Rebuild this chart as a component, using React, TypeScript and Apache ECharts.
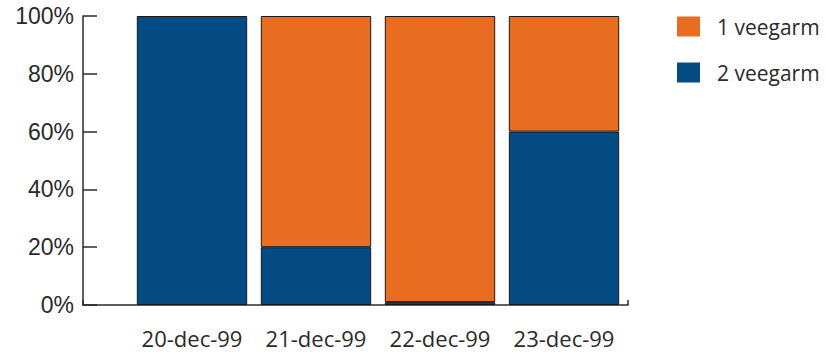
import React, { useEffect, useRef } from "react";
import * as echarts from "echarts";

const categories = ["20-dec-99", "21-dec-99", "22-dec-99", "23-dec-99"];
const seriesNames = ["1 veegarm", "2 veegarm"];
const oneArm = [0, 80, 99, 40];
const twoArm = [100, 20, 1, 60];
const yTicks = [0, 20, 40, 60, 80, 100];

const ORANGE = "#E86D20";
const BLUE = "#034B82";
const AXIS = "#2a2a2a";

const noZero = (arr: number[]) => arr.map((v) => (v === 0 ? null : v));

export default function App() {
  const ref = useRef<HTMLDivElement>(null);
  useEffect(() => {
    if (!ref.current) return;
    const chart = echarts.init(ref.current, undefined, { renderer: "svg" });
    const top = 16;
    const bottom = 49;
    chart.setOption({
      animation: false,
      backgroundColor: "#ffffff",
      grid: [
        { left: 130, right: 200, top, bottom },
        { left: 83, right: 198, top, bottom },
      ],
      legend: {
        orient: "vertical",
        left: 677,
        top: 16,
        padding: 0,
        itemWidth: 23,
        itemHeight: 20,
        itemGap: 25,
        icon: "rect",
        data: [seriesNames[0], seriesNames[1]],
        itemStyle: { borderWidth: 0 },
        textStyle: { fontFamily: "Open Sans", fontSize: 21, color: "#2a2a2a", padding: [4, 0, 0, 12] },
      },
      xAxis: [
        {
          type: "category",
          gridIndex: 0,
          data: categories,
          axisLine: { show: false },
          axisTick: { show: false },
          axisLabel: {
            interval: 0,
            hideOverlap: false,
            fontFamily: "Open Sans",
            fontSize: 22,
            color: "#2a2a2a",
            margin: 22,
          },
        },
        {
          type: "value",
          gridIndex: 1,
          min: 0,
          max: 1,
          interval: 1,
          axisLine: { show: true, lineStyle: { color: AXIS, width: 1.5 } },
          axisTick: { show: true, inside: true, length: 5, lineStyle: { color: AXIS, width: 1.5 } },
          axisLabel: { show: false },
          splitLine: { show: false },
        },
      ],
      yAxis: [
        {
          type: "value",
          gridIndex: 0,
          min: 0,
          max: 100,
          interval: 20,
          show: false,
          splitLine: { show: false },
        },
        {
          type: "value",
          gridIndex: 1,
          min: yTicks[0],
          max: yTicks[yTicks.length - 1],
          interval: 20,
          axisLine: { show: true, lineStyle: { color: AXIS, width: 1.5 } },
          axisTick: { show: true, inside: true, length: 14, lineStyle: { color: AXIS, width: 1.5 } },
          axisLabel: {
            formatter: "{value}%",
            fontFamily: "Liberation Sans",
            fontSize: 23,
            color: "#2a2a2a",
            margin: 9,
          },
          splitLine: { show: false },
        },
      ],
      series: [
        {
          name: seriesNames[1],
          type: "bar",
          stack: "total",
          xAxisIndex: 0,
          yAxisIndex: 0,
          data: noZero(twoArm),
          barCategoryGap: "11%",
          itemStyle: { color: BLUE, borderColor: "#1a1a1a", borderWidth: 1 },
        },
        {
          name: seriesNames[0],
          type: "bar",
          stack: "total",
          xAxisIndex: 0,
          yAxisIndex: 0,
          data: noZero(oneArm),
          barCategoryGap: "11%",
          itemStyle: { color: ORANGE, borderColor: "#1a1a1a", borderWidth: 1 },
        },
      ],
    });
    return () => chart.dispose();
  }, []);
  return (
    <div
      ref={ref}
      style={{ position: "fixed", left: 0, top: 0, width: 826, height: 354 }}
    />
  );
}
